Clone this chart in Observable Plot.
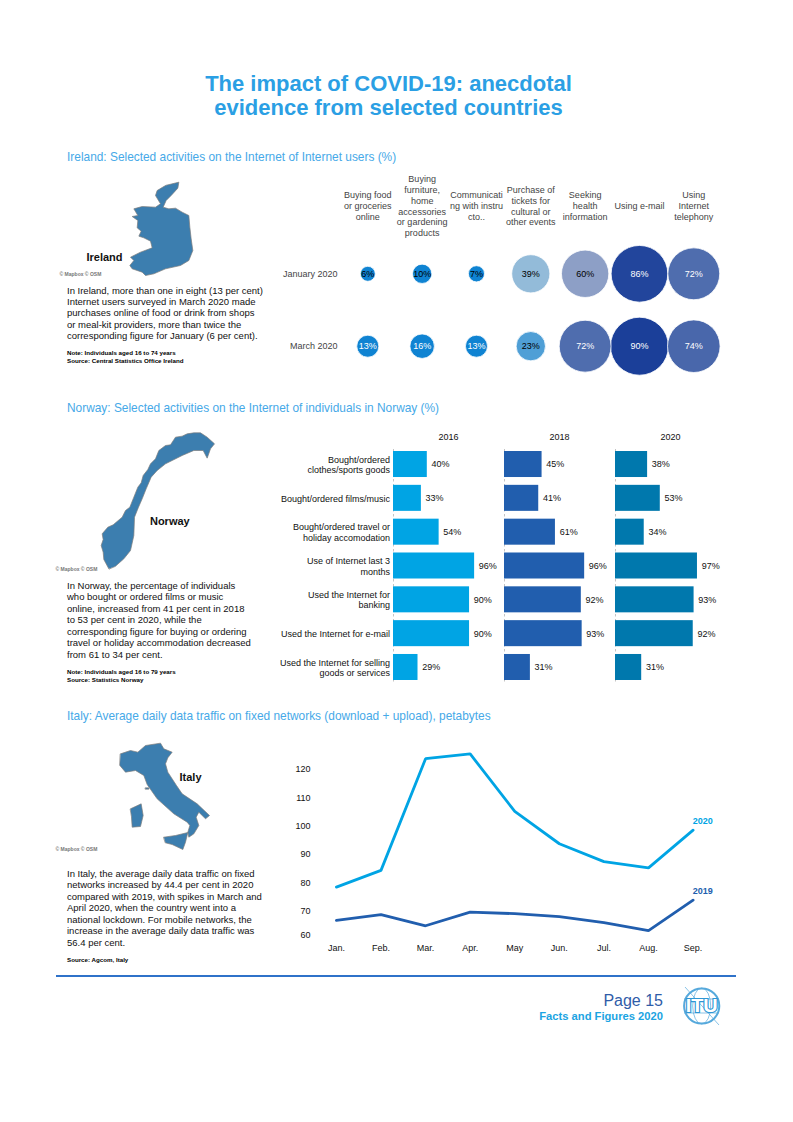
<!DOCTYPE html>
<html>
<head>
<meta charset="utf-8">
<script src="https://cdn.jsdelivr.net/npm/d3@7"></script>
<script src="https://cdn.jsdelivr.net/npm/@observablehq/plot@0.6"></script>
<style>
html,body{margin:0;padding:0;background:#fff}
#page{position:relative;width:793px;height:1122px;overflow:hidden;font-family:"Liberation Sans",Arial,sans-serif;color:#111}
#page>*{position:absolute}
.title{left:0;width:777px;top:72px;text-align:center;font-size:22px;line-height:24px;font-weight:700;color:#2b9fe4}
.sec{left:67px;font-size:11.9px;line-height:14px;color:#46a9e8;white-space:nowrap}
.body{left:67px;font-size:9.5px;line-height:11.45px;color:#111;white-space:nowrap}
.note{left:67px;font-size:6.2px;line-height:7.6px;font-weight:700;color:#000;white-space:nowrap}
.rule{left:56px;width:680px;top:975px;height:1.6px;background:#2f72c9}
.pg{right:130px;top:991px;font-size:16px;line-height:19px;color:#2f5ca8;white-space:nowrap}
.ff{right:130px;top:1009px;font-size:11.2px;line-height:14px;font-weight:700;color:#1ba4e2;white-space:nowrap}
</style>
</head>
<body>
<div id="page"></div>
<script>
// ---- Ireland bubbles
const irelandActivities = ["Buying food\nor groceries\nonline","Buying\nfurniture,\nhome\naccessories\nor gardening\nproducts","Communicati\nng with instru\ncto..","Purchase of\ntickets for\ncultural or\nother events","Seeking\nhealth\ninformation","Using e-mail","Using\nInternet\ntelephony"];
const irelandPeriods = ["January 2020","March 2020"];
const irelandJanuary = [6,10,7,39,60,86,72];
const irelandMarch = [13,16,13,23,72,90,74];
// ---- Norway bars
const norwayActivities = ["Bought/ordered\nclothes/sports goods","Bought/ordered films/music","Bought/ordered travel or\nholiday accomodation","Use of Internet last 3\nmonths","Used the Internet for\nbanking","Used the Internet for e-mail","Used the Internet for selling\ngoods or services"];
const norway2016 = [40,33,54,96,90,90,29];
const norway2018 = [45,41,61,96,92,93,31];
const norway2020 = [38,53,34,97,93,92,31];
// ---- Italy lines
const months = ["Jan.","Feb.","Mar.","Apr.","May","Jun.","Jul.","Aug.","Sep."];
const italy2019 = [66.2,68.6,64,69.6,69,67.8,65.3,62,73.9];
const italy2020 = [78.5,84.4,123.8,125.5,105.2,93.8,87.5,85.3,98.6];
const italyTicks = [60,70,80,90,100,110,120];
// ---- Map outlines (picture units, 3 per pixel)
const irelandOutline = [[365,130],[385,125],[382,143],[362,165],[347,180],[338,200],[355,205],[375,203],[395,215],[415,225],[418,260],[422,295],[427,330],[415,360],[390,375],[345,385],[310,400],[285,405],[275,395],[245,385],[238,375],[250,360],[240,350],[270,335],[305,322],[300,302],[280,292],[265,287],[272,272],[260,262],[262,240],[245,228],[262,225],[250,205],[275,198],[315,200],[330,190],[315,165],[320,150],[345,135]];
const norwayOutline = [[175,520],[160,492],[158,470],[152,450],[158,432],[155,415],[172,395],[188,388],[215,365],[225,345],[238,335],[250,305],[262,275],[272,262],[278,240],[292,222],[300,205],[315,190],[325,165],[345,150],[360,148],[375,125],[395,122],[410,115],[430,112],[450,112],[470,125],[492,145],[480,160],[470,188],[458,165],[430,165],[395,180],[365,195],[345,205],[320,225],[302,245],[287,280],[275,310],[264,335],[252,365],[250,420],[240,465],[220,490],[195,512]];
const italyMainland = [[210,160],[240,150],[262,155],[285,135],[330,128],[340,145],[365,155],[352,172],[345,190],[352,215],[378,255],[395,280],[440,310],[477,345],[465,355],[445,335],[437,350],[445,375],[430,400],[415,410],[412,395],[418,375],[410,365],[370,340],[320,295],[290,252],[280,225],[255,210],[225,215],[208,195]];
const italySardinia = [[240,325],[272,310],[278,345],[270,378],[245,380],[243,350]];
const italySicily = [[340,410],[375,405],[412,396],[405,425],[397,447],[365,432],[345,427]];
const italyElba = [[285,262],[295,262],[295,266],[285,266]];

const page = document.getElementById("page");
const font = '"Liberation Sans",Arial,sans-serif';
function put(el, left, top){ el.style.left = left+"px"; el.style.top = top+"px"; el.style.position="absolute"; page.appendChild(el); }
function html(cls, text, top){ const d=document.createElement("div"); d.className=cls; d.innerHTML=text; if(top!=null) d.style.top=top+"px"; page.appendChild(d); return d; }

html("title","The impact of COVID-19: anecdotal<br>evidence from selected countries");
html("sec","Ireland: Selected activities on the Internet of Internet users (%)",150);
html("sec","Norway: Selected activities on the Internet of individuals in Norway (%)",401);
html("sec","Italy: Average daily data traffic on fixed networks (download + upload), petabytes",709);

html("body","In Ireland, more than one in eight (13 per cent)<br>Internet users surveyed in March 2020 made<br>purchases online of food or drink from shops<br>or meal-kit providers, more than twice the<br>corresponding figure for January (6 per cent).",284.5);
html("note","Note: Individuals aged 16 to 74 years<br>Source: Central Statistics Office Ireland",349);
html("body","In Norway, the percentage of individuals<br>who bought or ordered films or music<br>online, increased from 41 per cent in 2018<br>to 53 per cent in 2020, while the<br>corresponding figure for buying or ordering<br>travel or holiday accommodation decreased<br>from 61 to 34 per cent.",580);
html("note","Note: Individuals aged 16 to 79 years<br>Source: Statistics Norway",668);
html("body","In Italy, the average daily data traffic on fixed<br>networks increased by 44.4 per cent in 2020<br>compared with 2019, with spikes in March and<br>April 2020, when the country went into a<br>national lockdown. For mobile networks, the<br>increase in the average daily data traffic was<br>56.4 per cent.",868);
html("note","Source: Agcom, Italy",956);

// ---- maps
function mapPlot(shapes, name, namePos, creditPos, left, top, x0, y0, w, h){
  const pts = shapes.flatMap((s,i)=>s.map(p=>({x:p[0],y:p[1],part:i})));
  const svg = Plot.plot({
    width:w,height:h,margin:0,
    x:{domain:[x0,x0+w*3],range:[0,w],axis:null},
    y:{domain:[y0,y0+h*3],range:[0,h],axis:null},
    style:{fontFamily:font,background:"transparent"},
    marks:[
      Plot.line(pts,{x:"x",y:"y",z:"part",curve:"linear-closed",fill:"#3c7eaf",stroke:"#7d7d7d",strokeWidth:0.7}),
      Plot.text([name],{x:()=>namePos[0],y:()=>namePos[1],text:d=>d,fontWeight:"bold",fontSize:11,fill:"#111"}),
      Plot.text(["© Mapbox © OSM"],{x:()=>creditPos[0],y:()=>creditPos[1],text:d=>d,textAnchor:"start",fontSize:5,fontWeight:"bold",fill:"#777"})
    ]
  });
  put(svg,left,top);
}
mapPlot([irelandOutline],"Ireland",[162,352],[27,402],50,175,0,105,170,105);
mapPlot([norwayOutline],"Norway",[358,378],[15,522],50,425,0,90,170,150);
mapPlot([italyMainland,italySardinia,italySicily,italyElba],"Italy",[420,232],[15,447],50,735,0,105,170,118);

// ---- Ireland bubbles
const bubbleRows = irelandPeriods.flatMap((p,j)=>(j?irelandMarch:irelandJanuary).map((v,i)=>({activity:irelandActivities[i],period:p,value:v})));
put(Plot.plot({
  width:460,height:220,marginLeft:68,marginTop:0,marginRight:0,marginBottom:0,
  style:{fontFamily:font,fontSize:"9px",color:"#444",background:"transparent"},
  x:{type:"point",domain:irelandActivities,range:[98.3,424.3],padding:0,round:false,axis:null},
  y:{type:"point",domain:irelandPeriods,range:[104.3,176.7],padding:0,round:false,axis:null},
  r:{domain:[0,90],range:[0,29]},
  color:{type:"linear",domain:[16,23,39,60,72,88],range:["#0f83d2","#4f9fd6","#93bbd9","#8d9fc6","#4f6dae","#1b3f99"],clamp:true},
  marks:[
    Plot.axisY({tickSize:0,tickPadding:0,label:null}),
    Plot.text(irelandActivities,{x:d=>d,text:d=>d,frameAnchor:"top",dy:36,lineAnchor:"middle",lineHeight:1.22,fill:"#444"}),
    Plot.dot(bubbleRows,{x:"activity",y:"period",r:"value",fill:"value",stroke:"#fff",strokeWidth:0.8}),
    Plot.text(bubbleRows,{x:"activity",y:"period",text:d=>d.value+"%",fill:d=>(d.value<=10||d.value==23||d.value==39||d.value==60)?"#000":"#fff"})
  ]
}),269.4,169.2);

// ---- Norway bars
const barColors = {"2016":"#00a4e4","2018":"#215eae","2020":"#0078ad"};
function barPlot(year,values,left,frameW,marginLeft,perCent,withLabels){
  const rows = values.map((v,i)=>({activity:norwayActivities[i],value:v}));
  put(Plot.plot({
    width:marginLeft+frameW,height:265,marginLeft,marginRight:0,marginTop:24,marginBottom:7,
    style:{fontFamily:font,fontSize:"9px",color:"#111",background:"transparent"},
    x:{domain:[0,100],range:[marginLeft,marginLeft+perCent*100],axis:null},
    y:{domain:norwayActivities,range:[22.1,258.9],paddingInner:0.231,paddingOuter:0.1155,round:false,axis:null},
    marks:[
      withLabels?Plot.axisY({tickSize:0,tickPadding:3.4,label:null,lineHeight:1.17,tickFormat:d=>d}):null,
      Plot.text([year],{frameAnchor:"top",text:d=>d,dy:-12.3,lineAnchor:"middle",fill:"#111"}),
      Plot.ruleX([0],{stroke:"#c4c4c4",strokeDasharray:"2.5,2.5",strokeWidth:1}),
      Plot.barX(rows,{x:"value",y:"activity",fill:barColors[year]}),
      Plot.text(rows,{x:"value",y:"activity",text:d=>d.value+"%",textAnchor:"start",dx:4.2,fill:"#111"})
    ]
  }),left,425);
}
barPlot("2016",norway2016,270,110,123,0.845,true);
barPlot("2018",norway2018,504,110,0,0.835,false);
barPlot("2020",norway2020,615,110,0,0.845,false);

// ---- Italy lines
const lineRows = [["2020",italy2020],["2019",italy2019]].flatMap(([s,vals])=>vals.map((v,i)=>({month:months[i],value:v,series:s})));
put(Plot.plot({
  width:450,height:220,marginLeft:40,marginRight:0,marginTop:0,marginBottom:18,
  style:{fontFamily:font,fontSize:"9px",color:"#111",background:"transparent"},
  x:{type:"point",domain:months,range:[65.9,422.6],padding:0,round:false},
  y:{type:"linear",domain:[60,70,120],range:[195,170.7,29]},
  color:{domain:["2020","2019"],range:["#00a4e4","#215eae"]},
  marks:[
    Plot.axisX({tickSize:0,tickPadding:2.4,label:null}),
    Plot.axisY({ticks:italyTicks,tickSize:0,tickPadding:0,label:null}),
    Plot.line(lineRows,{x:"month",y:"value",z:"series",stroke:"series",strokeWidth:2.8,curve:"linear",strokeLinejoin:"miter"}),
    Plot.text(lineRows,Plot.selectLast({x:"month",y:"value",z:"series",text:"series",fill:"series",dx:9.7,dy:-9,fontWeight:"bold"}))
  ]
}),270,740);

// ---- footer
html("rule","");
html("pg","Page 15");
html("ff","Facts and Figures 2020");
const logo = document.createElement("div");
logo.innerHTML = `<svg width="46" height="46" viewBox="0 0 46 46" xmlns="http://www.w3.org/2000/svg" role="img" aria-label="ITU logo">
<g fill="none" stroke="#56a9dc">
<path d="M6 4 L40 42" stroke-width="0.7"/>
<circle cx="22.7" cy="23" r="17.6" stroke-width="2"/>
<ellipse cx="22.7" cy="23" rx="9" ry="18" stroke-width="0.7"/>
<path d="M5 16 H40 M5 30 H40" stroke-width="0.7"/>
</g>
<text x="22.7" y="29" text-anchor="middle" font-family="Liberation Sans,Arial,sans-serif" font-size="18" font-weight="700" fill="#fff" stroke="#2f96d4" stroke-width="2.2" paint-order="stroke" textLength="32" lengthAdjust="spacingAndGlyphs">ITU</text>
</svg>`;
put(logo,679,983);
</script>
</body>
</html>
